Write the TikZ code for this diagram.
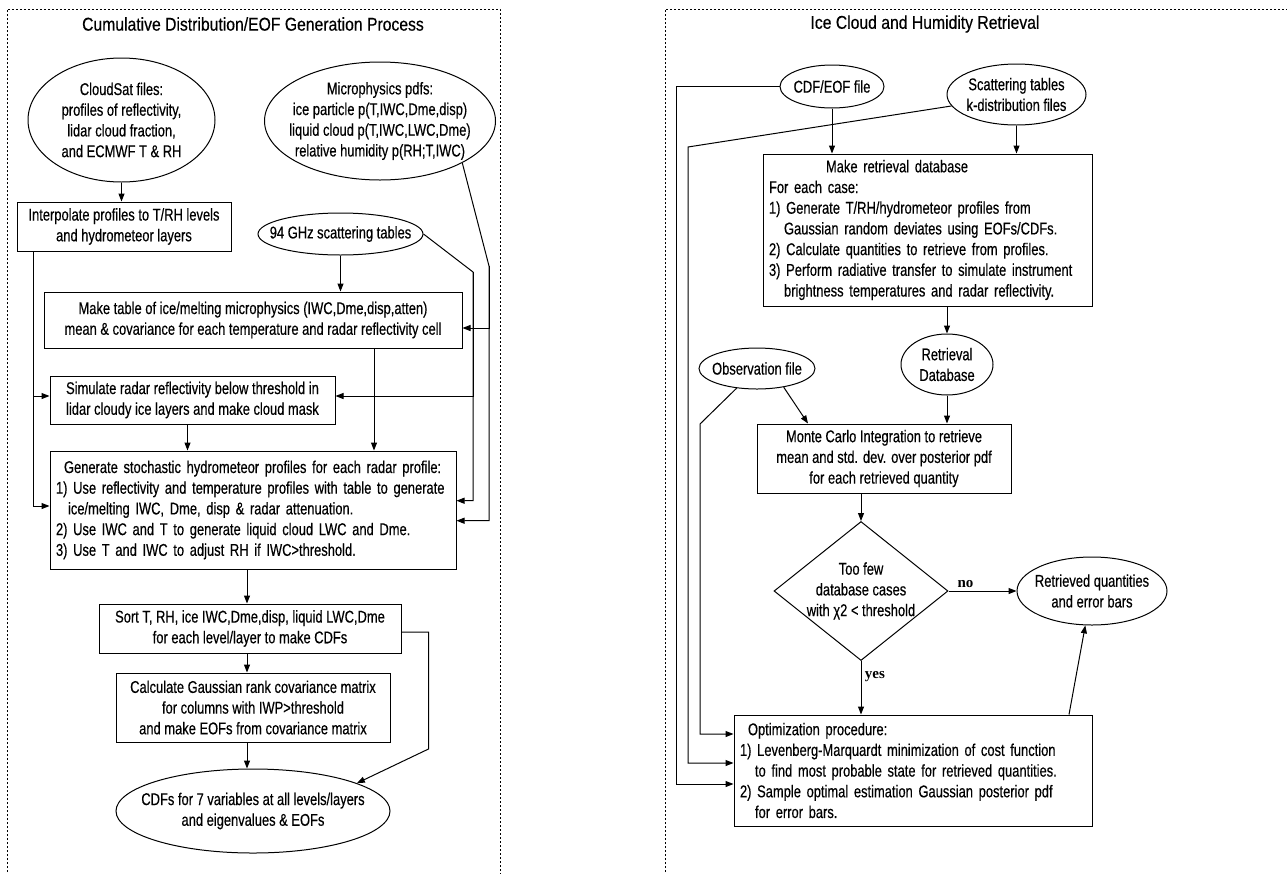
\documentclass[tikz,border=0pt]{standalone}
\usepackage{fontspec}
\setmainfont{Liberation Sans}[FakeStretch=0.76,FakeBold=0.4]
\newfontfamily\titlefont{Liberation Sans}[FakeStretch=0.85,FakeBold=0.4]
\newfontfamily\yesnofont{Liberation Serif}
\usetikzlibrary{shapes.geometric,arrows.meta,calc}

\begin{document}
\begin{tikzpicture}[x=1pt,y=-1pt,
  every node/.style={font=\fontsize{17}{20.7}\selectfont},
  paneltitle/.style={font=\titlefont\fontsize{18.5}{22}\selectfont},
  box/.style={draw,line width=1pt,rectangle,inner sep=0pt,align=center},
  listbox/.style={draw,line width=1pt,rectangle,inner xsep=6pt,inner ysep=0pt,align=left},
  oval/.style={draw,line width=1pt,ellipse,inner sep=-16pt,align=center},
  arr/.style={line width=1pt,-{Triangle[length=8pt,width=6pt]}},
  frame/.style={line width=0.8pt,dash pattern=on 2pt off 2pt},
  yn/.style={font=\yesnofont\bfseries\fontsize{15}{18}\selectfont}]
\useasboundingbox (0,0) rectangle (1287,873);

% dotted panel frames
\draw[frame] (7,880) -- (7,9) -- (500,9) -- (500,880);
\draw[frame] (665,880) -- (665,9) -- (1295,9);

% left panel: CDF / EOF generation
\node[paneltitle] (title1) at (253,24) {Cumulative Distribution/EOF Generation Process};
\node[oval,minimum width=187pt,minimum height=124pt] (cloudsat) at (121.5,120) {CloudSat files:\\profiles of reflectivity,\\lidar cloud fraction,\\and ECMWF T \& RH};
\node[oval,minimum width=231pt,minimum height=118pt] (micro) at (380,121) {Microphysics pdfs:\\ice particle p(T,IWC,Dme,disp)\\liquid cloud p(T,IWC,LWC,Dme)\\relative humidity p(RH;T,IWC)};
\node[box,minimum width=214pt,minimum height=49pt] (interp) at (124,226.5) {Interpolate profiles to T/RH levels\\and hydrometeor layers};
\node[oval,minimum width=165pt,minimum height=42pt] (ghz) at (340.5,234) {94 GHz scattering tables};
\node[box,minimum width=418pt,minimum height=56pt] (maketable) at (253,320) {Make table of ice/melting microphysics (IWC,Dme,disp,atten)\\mean \& covariance for each temperature and radar reflectivity cell};
\node[box,minimum width=285pt,minimum height=48pt] (simulate) at (192.5,400) {Simulate radar reflectivity below threshold in\\lidar cloudy ice layers and make cloud mask};
\node[listbox,text width=394pt,minimum height=118pt] (generate) at (253,510) {\hspace*{8pt}Generate stochastic hydrometeor profiles for each radar profile:\\
1) Use reflectivity and temperature profiles with table to generate\\
\hspace*{12pt}ice/melting IWC, Dme, disp \& radar attenuation.\\
2) Use IWC and T to generate liquid cloud LWC and Dme.\\
3) Use T and IWC to adjust RH if IWC>threshold.};
\node[box,minimum width=302pt,minimum height=49pt] (sort) at (250,628.5) {Sort T, RH, ice IWC,Dme,disp, liquid LWC,Dme\\for each level/layer to make CDFs};
\node[box,minimum width=274pt,minimum height=69pt] (calc) at (253,707.5) {Calculate Gaussian rank covariance matrix\\for columns with IWP>threshold\\and make EOFs from covariance matrix};
\node[oval,minimum width=274pt,minimum height=84pt] (cdfs) at (253,811) {CDFs for 7 variables at all levels/layers\\and eigenvalues \& EOFs};

\coordinate (ghzbend) at (473,272);
\coordinate (micbend) at (489,266);
\draw[arr] (cloudsat) -- (cloudsat |- interp.north);
\draw[arr] (ghz) -- (ghz |- maketable.north);
\draw[arr] (ghz.east) -- (ghzbend) |- ([yshift=9.3pt]generate.east);
\draw[arr] (ghzbend) |- ([yshift=4pt]simulate.east);
\draw[arr] (micro.-27) -- (micbend) |- ([yshift=-10.7pt]generate.east);
\draw[arr] (micbend) |- ([yshift=-8pt]maketable.east);
\draw[arr] ([xshift=17pt]interp.south west) |- ([yshift=4pt]simulate.west);
\draw[arr] ([xshift=17pt]interp.south west) |- ([yshift=4pt]generate.west);
\draw[arr] ([xshift=121pt]maketable.south) coordinate (mt) -- (mt |- generate.north);
\draw[arr] ([xshift=-5pt]simulate.south) coordinate (sm) -- (sm |- generate.north);
\draw[arr] ([xshift=-6pt]generate.south) coordinate (gs) -- (gs |- sort.north);
\draw[arr] (gs |- sort.south) -- (gs |- calc.north);
\draw[arr] (gs |- calc.south) -- (gs |- cdfs.north);
\draw[arr] ([yshift=-3.5pt]sort.east) -- ++(27,0) -- ++(0,117) -- (cdfs.15.5);

% right panel: retrieval
\node[paneltitle] (title2) at (925,24) {Ice Cloud and Humidity Retrieval};
\node[oval,minimum width=104pt,minimum height=43pt] (cdfeof) at (832,86.5) {CDF/EOF file};
\node[oval,minimum width=139pt,minimum height=61pt] (scat) at (1016.5,94.5) {Scattering tables\\k-distribution files};
\node[listbox,text width=317pt,minimum height=152pt] (database) at (927.5,230) {\hspace*{57pt}Make retrieval database\\
For each case:\\
1) Generate T/RH/hydrometeor profiles from\\
\hspace*{15pt}Gaussian random deviates using EOFs/CDFs.\\
2) Calculate quantities to retrieve from profiles.\\
3) Perform radiative transfer to simulate instrument\\
\hspace*{15pt}brightness temperatures and radar reflectivity.};
\node[oval,minimum width=92pt,minimum height=61pt] (retdb) at (947,364.5) {Retrieval\\Database};
\node[oval,minimum width=116pt,minimum height=41pt] (obs) at (757,368.5) {Observation file};
\node[box,minimum width=254pt,minimum height=69pt] (monte) at (884,458.5) {Monte Carlo Integration to retrieve\\mean and std. dev. over posterior pdf\\for each retrieved quantity};
\node[draw,line width=1pt,diamond,aspect=1.25,inner sep=-6pt,align=center,minimum width=174pt,minimum height=139pt] (test) at (861,591) {Too few\\database cases\\with χ2 < threshold};
\node[oval,minimum width=150pt,minimum height=68pt] (retrieved) at (1092,591) {Retrieved quantities\\and error bars};
\node[listbox,text width=346pt,minimum height=111pt] (optim) at (913,770.5) {\hspace*{8pt}Optimization procedure:\\
1) Levenberg-Marquardt minimization of cost function\\
\hspace*{15pt}to find most probable state for retrieved quantities.\\
2) Sample optimal estimation Gaussian posterior pdf\\
\hspace*{15pt}for error bars.};

\coordinate (scatbend) at (688,147);
\coordinate (obsbend) at (700,424);
\draw[arr] (cdfeof) -- (cdfeof |- database.north);
\draw[arr] (scat) -- (scat |- database.north);
\draw[arr] (cdfeof.west) -- ++(-103,0) |- ([yshift=-13.5pt]optim.west);
\draw[arr] (scat.190) -- (scatbend) |- ([yshift=7.5pt]optim.west);
\draw[arr] (retdb |- database.south) -- (retdb);
\draw[arr] (retdb) -- (retdb |- monte.north);
\draw[arr] (obs.-35) -- ([xshift=-76pt]monte.north);
\draw[arr] (obs.-136) -- (obsbend) |- ([yshift=36.5pt]optim.west);
\draw[arr] (test |- monte.south) -- (test);
\draw[arr] (test) -- node[yn,above,pos=0.25]{no} (retrieved);
\draw[arr] (test) -- node[yn,right,pos=0.3]{yes} (test |- optim.north);
\draw[arr] ([xshift=156pt]optim.north) -- (retrieved.-101);
\end{tikzpicture}
\end{document}
